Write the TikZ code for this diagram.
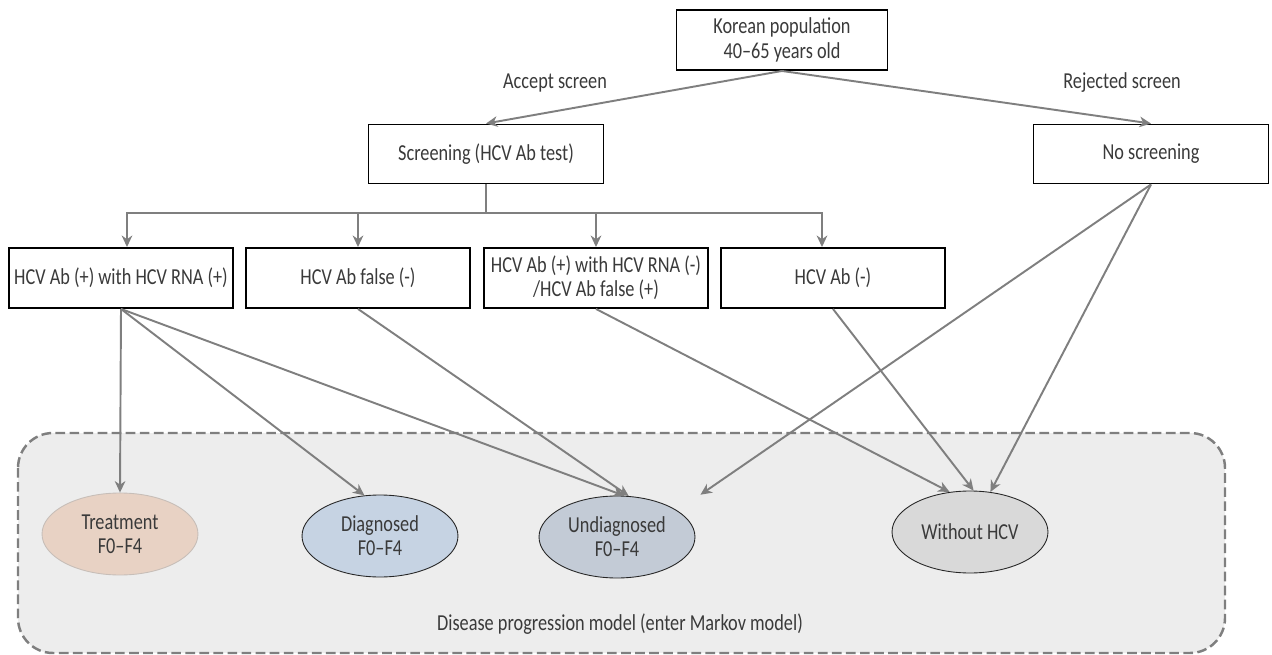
\documentclass[tikz,border=0pt]{standalone}
\usepackage{fontspec}
\setmainfont{Carlito}[FakeStretch=0.8]
\usetikzlibrary{arrows.meta,shapes.geometric}
\definecolor{txt}{HTML}{3A3A3A}
\definecolor{arrgray}{HTML}{7F7F7F}
\definecolor{bggray}{HTML}{EDEDED}
\definecolor{treatfill}{HTML}{E8D2C4}
\definecolor{diagfill}{HTML}{C6D3E3}
\definecolor{undiagfill}{HTML}{C3CBD6}
\definecolor{nohcvfill}{HTML}{D9D9D9}

\begin{document}
\begin{tikzpicture}[x=0.02cm, y=-0.02cm, font=\fontsize{13}{13.8}\selectfont, text=txt,
	box/.style = {shape=rectangle, draw=black, line width=1.1pt, align=center, fill=white, minimum height=1.2cm, minimum width=4.48cm, inner sep=1pt},
	state/.style = {shape=ellipse, draw=black!85, line width=0.5pt, align=center, minimum width=3.12cm, minimum height=1.64cm, inner sep=0pt},
	lbl/.style = {align=center, inner sep=0pt},
	arr/.style = {draw=arrgray, line width=1.1pt, -{Stealth[length=6.5pt, width=6pt, inset=2pt]}},
	line/.style = {draw=arrgray, line width=1.1pt}]
	\useasboundingbox (0,0) rectangle (1272,655);
	% Markov model area
	\draw[arrgray, line width=1.4pt, dash pattern=on 5.5pt off 2.5pt, fill=bggray, rounded corners=0.7cm] (18,433) rectangle (1225,653);
	\node[lbl] (markov) at (620,624) {Disease progression model (enter Markov model)};

	\node[box, minimum width=4.22cm] (korean) at (782,40) {Korean population\\40--65 years old};
	\node[box, minimum width=4.7cm, minimum height=1.18cm] (screen) at (486,154) {Screening (HCV Ab test)};
	\node[box, minimum width=4.7cm, minimum height=1.18cm] (noscreen) at (1151,154) {No screening};
	\node[lbl] (accept) at (555,83) {Accept screen};
	\node[lbl] (reject) at (1122,83) {Rejected screen};

	\node[box] (rnapos) at (121,278) {HCV Ab (+) with HCV RNA (+)};
	\node[box] (falseneg) at (358,278) {HCV Ab false (-)};
	\node[box] (rnaneg) at (596,278) {HCV Ab (+) with HCV RNA (-)\\/HCV Ab false (+)};
	\node[box] (abneg) at (833,278) {HCV Ab (-)};

	\node[state, fill=treatfill, draw=treatfill!70!black!60] (treat) at (120,534) {Treatment\\F0--F4};
	\node[state, fill=diagfill] (diag) at (380,536) {Diagnosed\\F0--F4};
	\node[state, fill=undiagfill] (undiag) at (617,537) {Undiagnosed\\F0--F4};
	\node[state, fill=nohcvfill] (nohcv) at (970,532) {Without HCV};

	\draw[arr] (korean.south) -- (screen.north);
	\draw[arr] (korean.south) -- (noscreen.north);

	\coordinate (split) at (486,213);
	\draw[line] (screen.south) -- (split);
	\draw[arr] (split) -| ([xshift=0.12cm]rnapos.north);
	\draw[arr] (split) -| (falseneg.north);
	\draw[arr] (split) -| (rnaneg.north);
	\draw[arr] (split) -| ([xshift=-0.22cm]abneg.north);

	\draw[arr] (rnapos.south) -- (treat.north);
	\draw[arr] (rnapos.south) -- (diag.111);
	\draw[arr] (rnapos.south) -- (undiag.80);
	\draw[arr] (falseneg.south) -- (undiag.74);
	\draw[arr] (rnaneg.south) -- (nohcv.117);
	\draw[arr] (abneg.south) -- (nohcv.85);
	\draw[arr] (noscreen.south) -- ([xshift=0.56cm, yshift=0.26cm]undiag.north east);
	\draw[arr] (noscreen.south) -- (nohcv.63);
\end{tikzpicture}
\end{document}
